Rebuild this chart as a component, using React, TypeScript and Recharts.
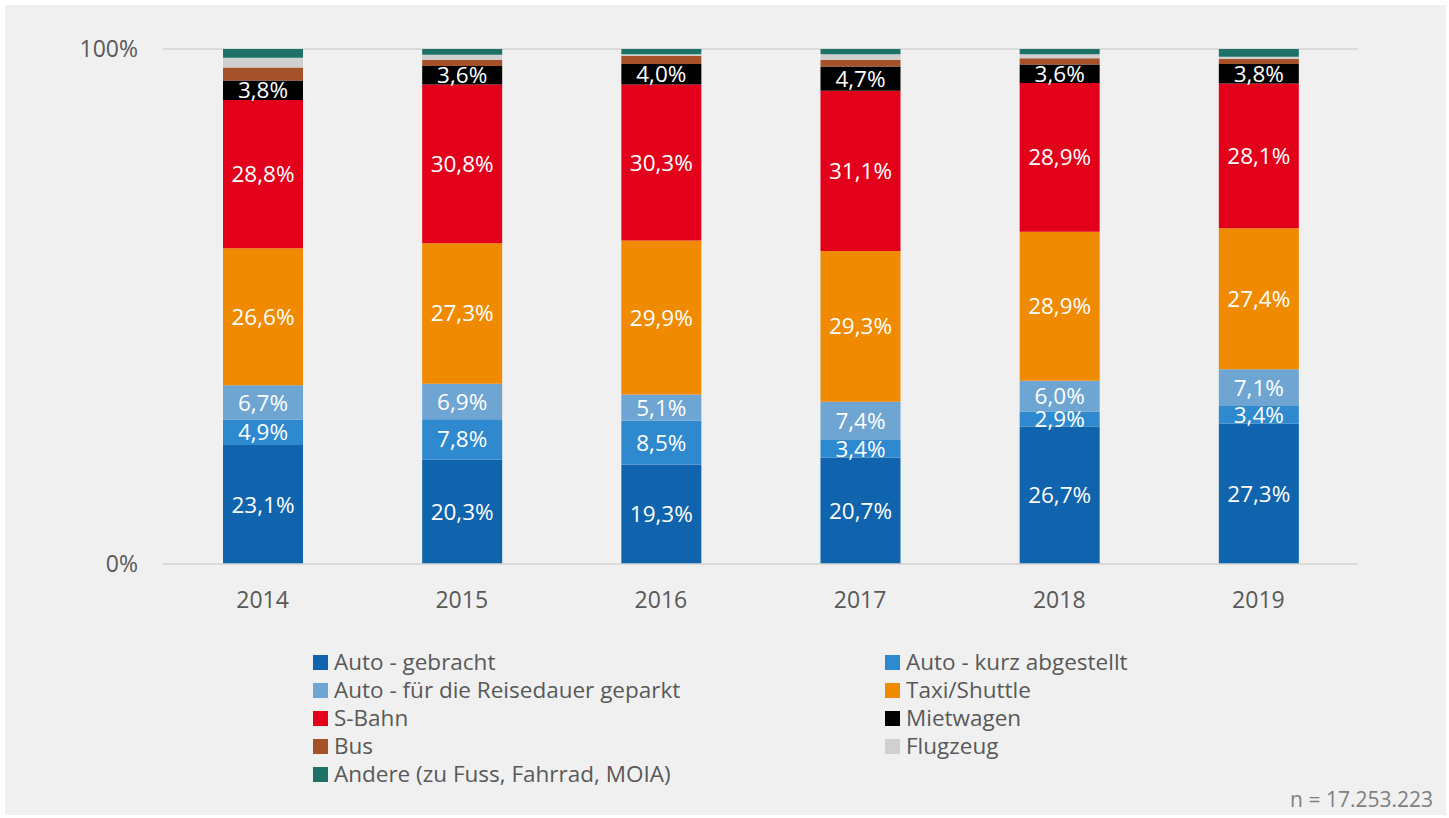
import React from "react";
import { Bar, BarChart, CartesianGrid, LabelList, XAxis, YAxis } from "recharts";

const years = ["2014", "2015", "2016", "2017", "2018", "2019"];

const autoGebracht = [23.1, 20.3, 19.3, 20.7, 26.7, 27.3];
const autoKurz = [4.9, 7.8, 8.5, 3.4, 2.9, 3.4];
const autoGeparkt = [6.7, 6.9, 5.1, 7.4, 6.0, 7.1];
const taxi = [26.6, 27.3, 29.9, 29.3, 28.9, 27.4];
const sBahn = [28.8, 30.8, 30.3, 31.1, 28.9, 28.1];
const mietwagen = [3.8, 3.6, 4.0, 4.7, 3.6, 3.8];
const bus = [2.5, 1.2, 1.6, 1.3, 1.2, 1.0];
const flugzeug = [1.9, 1.0, 0.3, 1.1, 0.8, 0.4];
const andere = [1.7, 1.1, 1.0, 1.0, 1.0, 1.5];

const series = [
  { key: "gebracht", name: "Auto - gebracht", values: autoGebracht, color: "#0f64ad", label: true },
  { key: "kurz", name: "Auto - kurz abgestellt", values: autoKurz, color: "#2e89cf", label: true },
  { key: "geparkt", name: "Auto - für die Reisedauer geparkt", values: autoGeparkt, color: "#6ea5d2", label: true },
  { key: "taxi", name: "Taxi/Shuttle", values: taxi, color: "#f08a00", label: true },
  { key: "sbahn", name: "S-Bahn", values: sBahn, color: "#e2001a", label: true },
  { key: "miet", name: "Mietwagen", values: mietwagen, color: "#000000", label: true },
  { key: "bus", name: "Bus", values: bus, color: "#a5522a", label: false },
  { key: "flug", name: "Flugzeug", values: flugzeug, color: "#d0d0d0", label: false },
  { key: "andere", name: "Andere (zu Fuss, Fahrrad, MOIA)", values: andere, color: "#1d7268", label: false },
];

const rows = years.map((year, i) => {
  const row: Record<string, string | number> = { year };
  series.forEach((s) => {
    row[s.key] = s.values[i];
  });
  return row;
});

const font = "'Open Sans', sans-serif";
const grey = "#595959";

function fmt(v: unknown) {
  return Number(v).toFixed(1).replace(".", ",") + "%";
}

function LegendGrid() {
  return (
    <div
      style={{
        position: "absolute",
        left: 313,
        top: 648,
        display: "grid",
        gridTemplateColumns: "572px 400px",
        fontFamily: font,
        fontSize: 22.5,
        color: grey,
      }}
    >
      {series.map((s) => (
        <div key={s.key} style={{ display: "flex", alignItems: "center", height: 28 }}>
          <span style={{ width: 15, height: 15, background: s.color, marginRight: 6, display: "inline-block" }} />
          <span style={{ lineHeight: "28px", whiteSpace: "nowrap" }}>{s.name}</span>
        </div>
      ))}
    </div>
  );
}

export default function App() {
  return (
    <div style={{ position: "fixed", left: 0, top: 0, width: 1449, height: 818, background: "#ffffff" }}>
      <div style={{ position: "absolute", left: 5, top: 5, width: 1441, height: 810, background: "#f0f0f0" }} />
      <div style={{ position: "absolute", left: 0, top: 0 }}>
        <BarChart
          width={1449}
          height={818}
          data={rows}
          margin={{ top: 49, right: 91, left: 0, bottom: 224 }}
          barCategoryGap="30%"
        >
          <CartesianGrid vertical={false} horizontal stroke="#d9d9d9" strokeWidth={1.5} />
          <XAxis
            dataKey="year"
            height={30}
            tickLine={false}
            axisLine={{ stroke: "#d9d9d9", strokeWidth: 1.5 }}
            tickMargin={22}
            tick={{ fill: grey, fontSize: 23, fontFamily: font }}
          />
          <YAxis
            width={163}
            domain={[0, 100]}
            ticks={[0, 100]}
            tickFormatter={(v) => `${v}%`}
            axisLine={false}
            tickLine={false}
            tickSize={0}
            tickMargin={25}
            tick={{ fill: grey, fontSize: 23, fontFamily: font }}
          />
          {series.map((s) => (
            <Bar
              key={s.key}
              dataKey={s.key}
              name={s.name}
              stackId="a"
              fill={s.color}
              barSize={80}
              isAnimationActive={false}
            >
              {s.label && (
                <LabelList
                  dataKey={s.key}
                  position="center"
                  formatter={fmt}
                  fill="#ffffff"
                  style={{ fontSize: 22.5, fontFamily: font }}
                />
              )}
            </Bar>
          ))}
        </BarChart>
      </div>
      <LegendGrid />
      <div
        style={{
          position: "absolute",
          right: 16,
          top: 785,
          fontFamily: font,
          fontSize: 21,
          color: "#7f7f7f",
        }}
      >
        n = 17.253.223
      </div>
    </div>
  );
}
